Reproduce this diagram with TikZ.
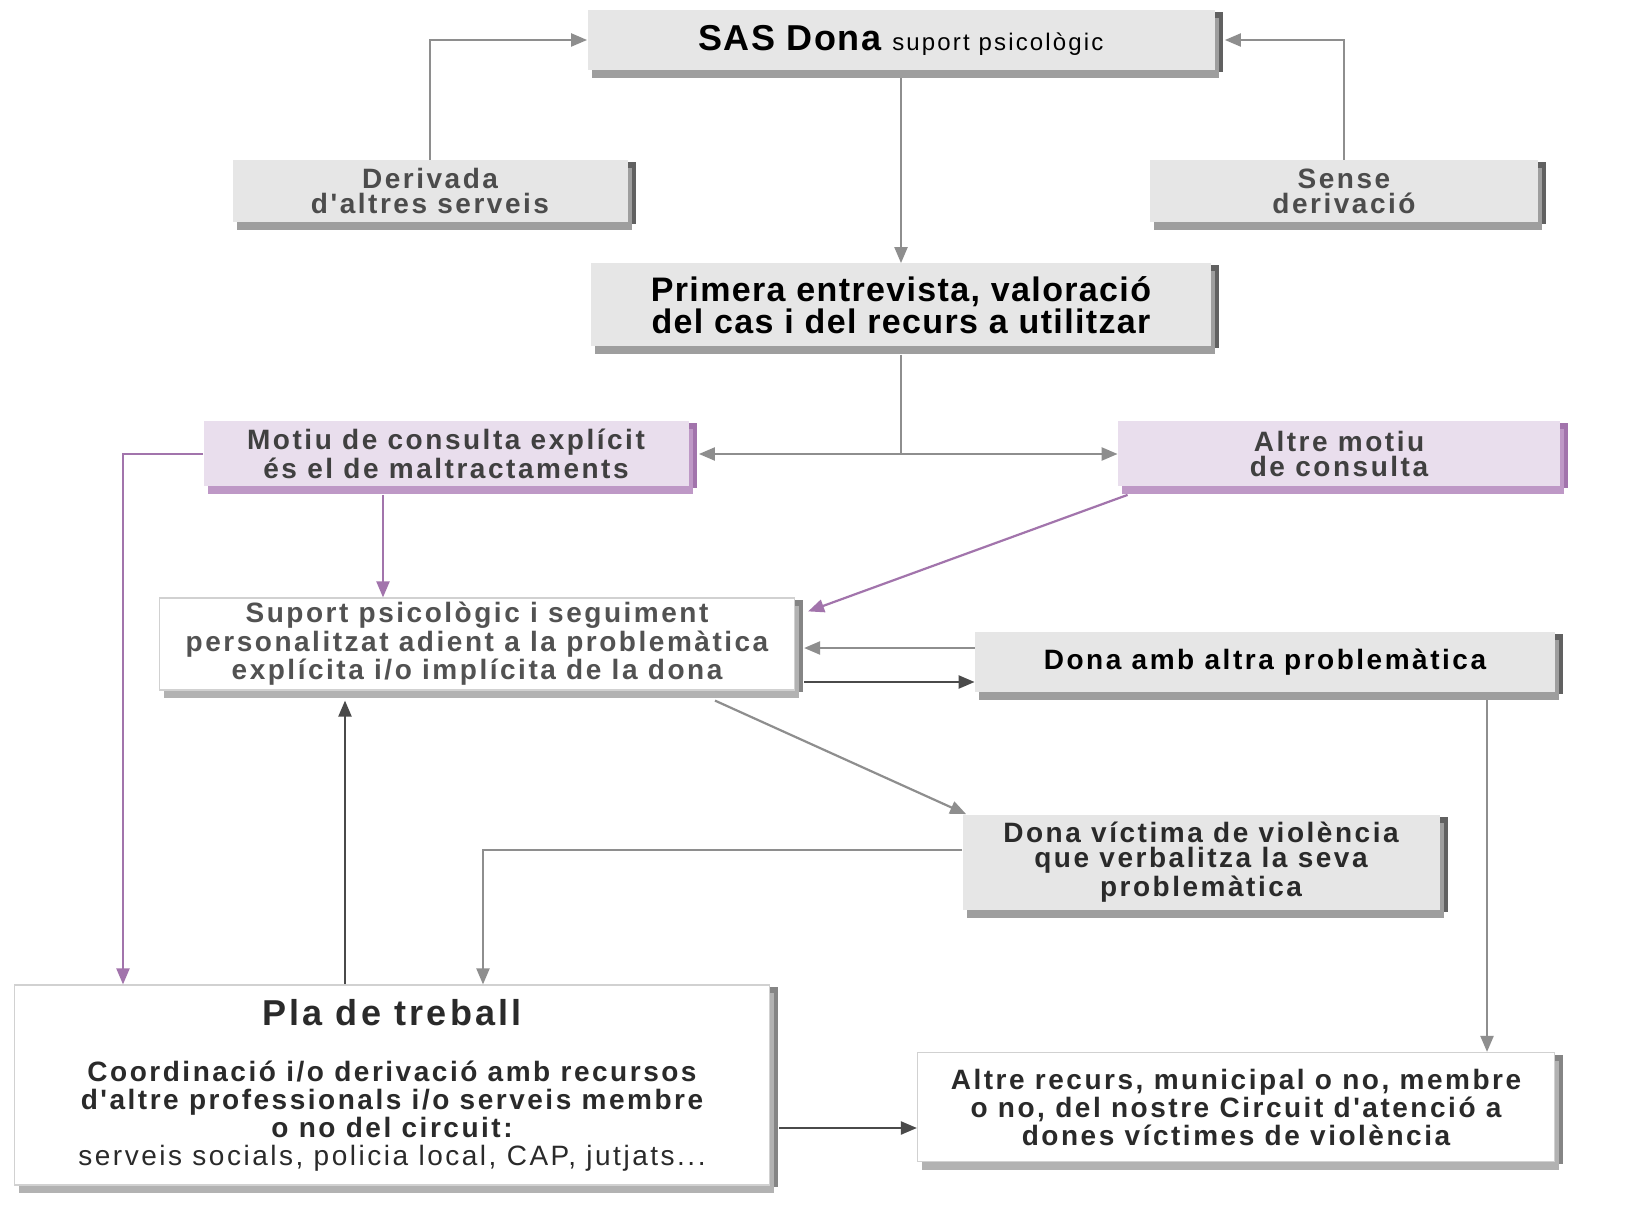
\documentclass[tikz,border=0pt]{standalone}
\usepackage{fontspec}
\setmainfont{Liberation Sans}
\newfontfamily\wide{Liberation Sans}[LetterSpace=9]
\newfontfamily\semi{Liberation Sans}[LetterSpace=4]
\usetikzlibrary{arrows.meta,shadows}

\definecolor{boxgray}{HTML}{E6E6E6}
\definecolor{lilac}{HTML}{E9DEED}
\definecolor{lilacdark}{HTML}{A274AC}
\definecolor{lilacmid}{HTML}{BE98C6}
\definecolor{linegray}{HTML}{8E8E8E}
\definecolor{linedark}{HTML}{4A4A4A}
\definecolor{txt}{HTML}{2A2A2A}

\tikzset{
  bevel/.style 2 args={general shadow={fill=#1,shadow xshift=4pt,shadow yshift=-1pt},
    general shadow={fill=#2,shadow xshift=2pt,shadow yshift=-4pt}},
  gbox/.style={fill=boxgray,bevel={black!62}{black!38},align=center,inner sep=0pt,text=txt},
  pbox/.style={fill=lilac,bevel={lilacdark}{lilacmid},align=center,inner sep=0pt,text=black!75},
  wbox/.style={fill=white,draw=black!18,line width=0.6pt,bevel={black!48}{black!30},align=center,inner sep=0pt,text=txt},
  bx/.style={font=\wide\bfseries\fontsize{14}{12.6}\selectfont},
  arr/.style={draw=linegray,line width=1.1pt,-{Triangle[length=8pt,width=6.5pt]}},
  darr/.style={arr,draw=linedark,fill=linedark},
  parr/.style={arr,draw=lilacdark}
}

\begin{document}
\begin{tikzpicture}[x=0.5pt,y=-0.5pt]
\useasboundingbox[fill=white] (0,0) rectangle (1626,1229);
% boxes
\node[gbox,minimum width=313.5pt,minimum height=30pt,text=black] (sas) at (901,40)
  {{\semi\bfseries\fontsize{18}{18}\selectfont SAS Dona}\ \ {\wide\fontsize{12}{12}\selectfont suport psicològic}};
\node[gbox,bx,minimum width=197.5pt,minimum height=31pt,text=black!70] (der) at (430,191) {Derivada\\d'altres serveis};
\node[gbox,bx,minimum width=194pt,minimum height=31pt,text=black!70] (sen) at (1344,191) {Sense\\derivació};
\node[gbox,minimum width=310pt,minimum height=41.5pt,text=black,font=\semi\bfseries\fontsize{17}{16.2}\selectfont] (pri) at (901,305)
  {Primera entrevista, valoració\\del cas i del recurs a utilitzar};
\node[pbox,bx,minimum width=242.5pt,minimum height=32.5pt] (mot) at (446,454) {Motiu de consulta explícit\\és el de maltractaments};
\node[pbox,bx,minimum width=221pt,minimum height=32.5pt] (alt) at (1339,454) {Altre motiu\\de consulta};
\node[wbox,bx,minimum width=317.5pt,minimum height=46pt,text=black!68] (sup) at (477,644)
  {Suport psicològic i seguiment\\personalitzat adient a la problemàtica\\explícita i/o implícita de la dona};
\node[gbox,bx,minimum width=290pt,minimum height=30pt,text=black] (amb) at (1265,662) {Dona amb altra problemàtica};
\node[gbox,bx,minimum width=238.5pt,minimum height=47.5pt] (vic) at (1201,862)
  {Dona víctima de violència\\que verbalitza la seva\\problemàtica};
\node[wbox,minimum width=377.5pt,minimum height=100pt,font=\wide\bfseries\fontsize{14}{14}\selectfont] (pla) at (392,1085)
  {\fontsize{18}{20}\selectfont Pla de treball\\[14pt]
   Coordinació i/o derivació amb recursos\\d'altre professionals i/o serveis membre\\o no del circuit:\\
   \mdseries serveis socials, policia local, CAP, jutjats...};
\node[wbox,minimum width=318.5pt,minimum height=54.5pt,font=\wide\bfseries\fontsize{14}{14}\selectfont] (rec) at (1236,1107)
  {Altre recurs, municipal o no, membre\\o no, del nostre Circuit d'atenció a\\dones víctimes de violència};
% connectors
\draw[arr] (der.north) |- (sas.west);
\draw[arr] (sen.north) |- ([xshift=5pt]sas.east);
\draw[arr] ([yshift=-4pt]sas.south) -- (pri.north);
\coordinate (split) at (pri.south |- mot.east);
\draw[linegray,line width=1.1pt] ([yshift=-4pt]pri.south) -- (split);
\draw[arr] (split) -- ([xshift=5pt]mot.east);
\draw[arr] (split) -- (alt.west);
\draw[parr] ([xshift=-31.5pt,yshift=-4pt]mot.south) -- ([xshift=-47pt]sup.north);
\draw[parr] (mot.west) -| ([xshift=-134.5pt]pla.north);
\draw[parr] ([xshift=5pt,yshift=-4pt]alt.south west) -- ([xshift=6.5pt,yshift=-7pt]sup.north east);
\draw[arr] ([yshift=7pt]amb.west) -- ([xshift=4.5pt,yshift=-2pt]sup.east);
\draw[darr] ([xshift=4.5pt,yshift=-19pt]sup.east) -- ([yshift=-10pt]amb.west);
\draw[arr] ([xshift=119pt,yshift=-5pt]sup.south) -- ([xshift=2pt]vic.north west);
\draw[arr] ([yshift=6pt]vic.west) -| ([xshift=45.5pt]pla.north);
\draw[darr] ([xshift=-23.5pt]pla.north) -- ([xshift=-66pt,yshift=-5pt]sup.south);
\draw[arr] ([xshift=111pt,yshift=-4pt]amb.south) -- ([xshift=125.5pt]rec.north);
\draw[darr] ([xshift=4.5pt,yshift=-21.5pt]pla.east) -- ([yshift=-10.5pt]rec.west);
\end{tikzpicture}
\end{document}
